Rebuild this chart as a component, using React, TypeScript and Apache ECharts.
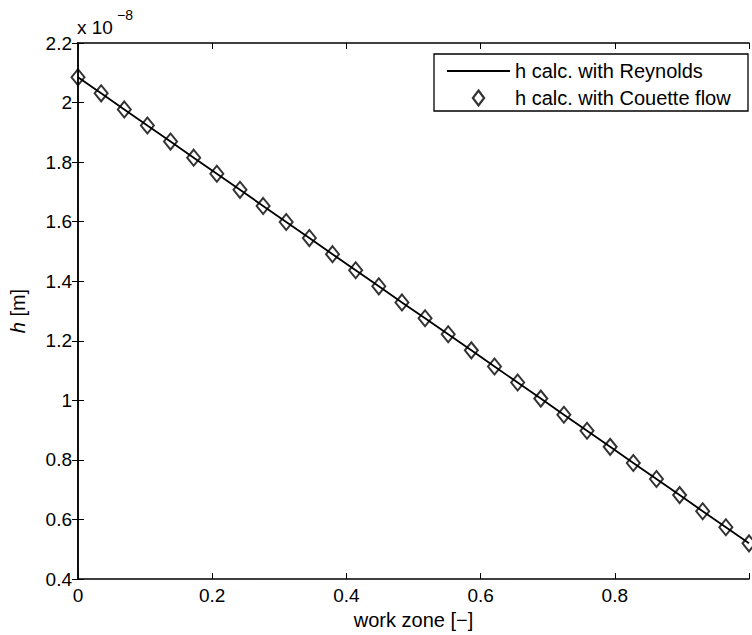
import React, { useEffect, useRef } from "react";
import * as echarts from "echarts";

// work zone positions (–)
const workZone = [
  0, 0.0345, 0.069, 0.1034, 0.1379, 0.1724, 0.2069, 0.2414, 0.2759, 0.3103,
  0.3448, 0.3793, 0.4138, 0.4483, 0.4828, 0.5172, 0.5517, 0.5862, 0.6207, 0.6552,
  0.6897, 0.7241, 0.7586, 0.7931, 0.8276, 0.8621, 0.8966, 0.931, 0.9655, 1.0,
];
// h in units of 1e-8 m
const hReynolds = [
  2.085, 2.031, 1.977, 1.923, 1.869, 1.815, 1.761, 1.707, 1.653, 1.599,
  1.545, 1.491, 1.437, 1.383, 1.329, 1.276, 1.222, 1.168, 1.114, 1.06,
  1.006, 0.952, 0.898, 0.844, 0.79, 0.736, 0.682, 0.628, 0.574, 0.52,
];
const hCouette = [
  2.085, 2.031, 1.977, 1.923, 1.869, 1.815, 1.761, 1.707, 1.653, 1.599,
  1.545, 1.491, 1.437, 1.383, 1.329, 1.276, 1.222, 1.168, 1.114, 1.06,
  1.006, 0.952, 0.898, 0.844, 0.79, 0.736, 0.682, 0.628, 0.574, 0.52,
];
const seriesNames = ["h calc. with Reynolds", "h calc. with Couette flow"];
const xAxisLabel = "work zone [−]";
const yAxisLabel = "{i|h} [m]";

const FONT = '"Liberation Sans", Arial, Helvetica, sans-serif';

export default function App() {
  const ref = useRef<HTMLDivElement>(null);
  useEffect(() => {
    if (!ref.current) return;
    const chart = echarts.init(ref.current, null, { renderer: "svg" });
    const fmt = (v: number) => String(Number(v.toFixed(1)));
    const axisLine = { show: true, lineStyle: { color: "#000", width: 1.5 } };
    const axisTick = { show: true, inside: true, length: 6, lineStyle: { color: "#000", width: 1 } };
    chart.setOption({
      animation: false,
      backgroundColor: "#fff",
      textStyle: { fontFamily: FONT, color: "#000" },
      grid: { left: 76, top: 43, width: 681, height: 539, containLabel: false },
      xAxis: [
        {
          type: "value",
          min: 0,
          max: 1,
          interval: 0.2,
          position: "bottom",
          axisLine,
          axisTick,
          splitLine: { show: false },
          axisLabel: {
            color: "#000",
            fontSize: 19,
            fontFamily: FONT,
            margin: 7,
            formatter: (v: number) => (v >= 1 ? "" : fmt(v)),
          },
          name: xAxisLabel,
          nameLocation: "middle",
          nameGap: 30,
          nameTextStyle: { color: "#000", fontSize: 20, fontFamily: FONT },
        },
        {
          type: "value",
          min: 0,
          max: 1,
          interval: 0.2,
          position: "top",
          axisLine,
          axisTick,
          splitLine: { show: false },
          axisLabel: { show: false },
        },
      ],
      yAxis: [
        {
          type: "value",
          min: 0.4,
          max: 2.2,
          interval: 0.2,
          position: "left",
          axisLine,
          axisTick,
          splitLine: { show: false },
          axisLabel: {
            color: "#000",
            fontSize: 19,
            fontFamily: FONT,
            margin: 6,
            formatter: fmt,
          },
          name: yAxisLabel,
          nameLocation: "middle",
          nameGap: 50,
          nameTextStyle: {
            color: "#000",
            fontSize: 20,
            fontFamily: FONT,
            rich: { i: { fontStyle: "italic", fontSize: 20, fontFamily: FONT, color: "#000" } },
          },
        },
        {
          type: "value",
          min: 0.4,
          max: 2.2,
          interval: 0.2,
          position: "right",
          axisLine,
          axisTick,
          splitLine: { show: false },
          axisLabel: { show: false },
        },
      ],
      legend: {
        orient: "vertical",
        left: 447,
        top: 61,
        padding: 0,
        itemWidth: 63,
        itemHeight: 15,
        itemGap: 7,
        symbolKeepAspect: true,
        z: 10,
        textStyle: { color: "#000", fontSize: 20, fontFamily: FONT, lineHeight: 20 },
        data: [
          {
            name: seriesNames[0],
            icon: "path://M0,0L64,0L64,2L0,2Z",
            itemStyle: { color: "#000", borderWidth: 0 },
          },
          {
            name: seriesNames[1],
            icon: "path://M6,0L12,8L6,16L0,8Z",
            itemStyle: { color: "rgba(0,0,0,0)", borderColor: "#000", borderWidth: 2.2 },
          },
        ],
      },
      graphic: [
        {
          type: "rect",
          z: 1,
          shape: { x: 434, y: 54, width: 314, height: 57 },
          style: { fill: "#fff", stroke: "#000", lineWidth: 1.3 },
        },
        {
          type: "text",
          left: 77,
          top: 18,
          style: { text: "x 10", font: `19px ${FONT}`, fill: "#000" },
        },
        {
          type: "text",
          left: 117,
          top: 8,
          style: { text: "−8", font: `14px ${FONT}`, fill: "#000" },
        },
      ],
      series: [
        {
          name: seriesNames[0],
          type: "line",
          data: workZone.map((x, i) => [x, hReynolds[i]]),
          symbol: "none",
          lineStyle: { color: "#000", width: 1.8 },
          itemStyle: { color: "#000" },
          z: 3,
        },
        {
          name: seriesNames[1],
          type: "scatter",
          data: workZone.map((x, i) => [x, hCouette[i]]),
          symbol: "diamond",
          symbolSize: [13, 16],
          itemStyle: { color: "rgba(0,0,0,0)", borderColor: "#000", borderWidth: 2 },
          z: 4,
        },
      ],
    });
    return () => chart.dispose();
  }, []);
  return (
    <div
      ref={ref}
      style={{ position: "fixed", left: 0, top: 0, width: 752, height: 635, background: "#fff" }}
    />
  );
}
